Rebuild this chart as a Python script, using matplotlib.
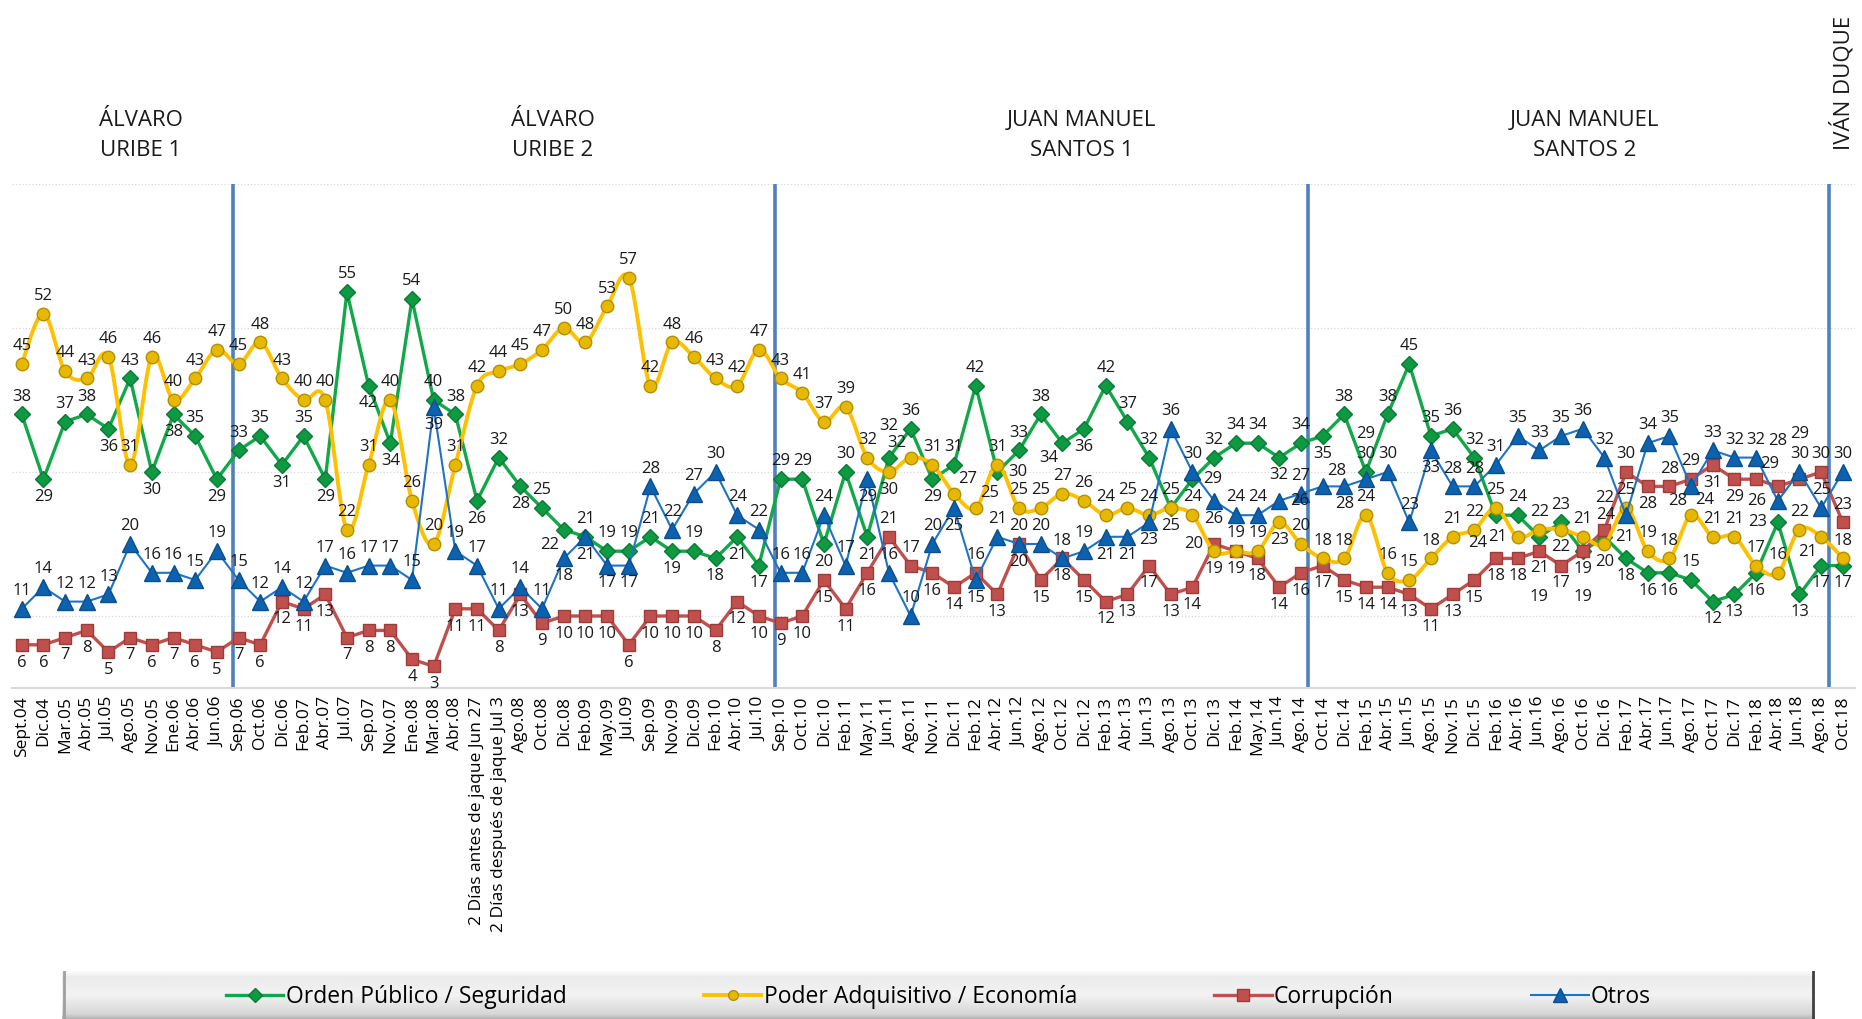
import numpy as np
import matplotlib
matplotlib.use("Agg")
import matplotlib.pyplot as plt
from matplotlib.lines import Line2D

plt.rcParams['font.family'] = ['Open Sans', 'DejaVu Sans']

periodos = ['Sept.04', 'Dic.04', 'Mar.05', 'Abr.05', 'Jul.05', 'Ago.05', 'Nov.05', 'Ene.06', 'Abr.06', 'Jun.06',
            'Sep.06', 'Oct.06', 'Dic.06', 'Feb.07', 'Abr.07', 'Jul.07', 'Sep.07', 'Nov.07', 'Ene.08', 'Mar.08',
            'Abr.08', '2 Días antes de jaque Jun 27', '2 Días después de jaque Jul 3', 'Ago.08', 'Oct.08', 'Dic.08',
            'Feb.09', 'May.09', 'Jul.09', 'Sep.09', 'Nov.09', 'Dic.09', 'Feb.10', 'Abr.10', 'Jul.10',
            'Sep.10', 'Oct.10', 'Dic.10', 'Feb.11', 'May.11', 'Jun.11', 'Ago.11', 'Nov.11', 'Dic.11', 'Feb.12',
            'Abr.12', 'Jun.12', 'Ago.12', 'Oct.12', 'Dic.12', 'Feb.13', 'Abr.13', 'Jun.13', 'Ago.13', 'Oct.13',
            'Dic.13', 'Feb.14', 'May.14', 'Jun.14', 'Ago.14', 'Oct.14', 'Dic.14', 'Feb.15', 'Abr.15', 'Jun.15',
            'Ago.15', 'Nov.15', 'Dic.15', 'Feb.16', 'Abr.16', 'Jun.16', 'Ago.16', 'Oct.16', 'Dic.16', 'Feb.17',
            'Abr.17', 'Jun.17', 'Ago.17', 'Oct.17', 'Dic.17', 'Feb.18', 'Abr.18', 'Jun.18', 'Ago.18', 'Oct.18']

seguridad = [38, 29, 37, 38, 36, 43, 30, 38, 35, 29, 33, 35, 31, 35, 29, 55, 42, 34, 54, 40,
             38, 26, 32, 28, 25, 22, 21, 19, 19, 21, 19, 19, 18, 21, 17, 29, 29, 20, 30, 21,
             32, 36, 29, 31, 42, 30, 33, 38, 34, 36, 42, 37, 32, 25, 29, 32, 34, 34, 32, 34,
             35, 38, 30, 38, 45, 35, 36, 32, 24, 24, 21, 23, 19, 21, 18, 16, 16, 15, 12, 13,
             16, 23, 13, 17, 17]

economia = [45, 52, 44, 43, 46, 31, 46, 40, 43, 47, 45, 48, 43, 40, 40, 22, 31, 40, 26, 20,
            31, 42, 44, 45, 47, 50, 48, 53, 57, 42, 48, 46, 43, 42, 47, 43, 41, 37, 39, 32,
            30, 32, 31, 27, 25, 31, 25, 25, 27, 26, 24, 25, 24, 25, 24, 19, 19, 19, 23, 20,
            18, 18, 24, 16, 15, 18, 21, 22, 25, 21, 22, 22, 21, 20, 25, 19, 18, 24, 21, 21,
            17, 16, 22, 21, 18]

corrupcion = [6, 6, 7, 8, 5, 7, 6, 7, 6, 5, 7, 6, 12, 11, 13, 7, 8, 8, 4, 3,
              11, 11, 8, 13, 9, 10, 10, 10, 6, 10, 10, 10, 8, 12, 10, 9, 10, 15, 11, 16,
              21, 17, 16, 14, 16, 13, 20, 15, 18, 15, 12, 13, 17, 13, 14, 20, 19, 18, 14, 16,
              17, 15, 14, 14, 13, 11, 13, 15, 18, 18, 19, 17, 19, 22, 30, 28, 28, 29, 31, 29,
              29, 28, 29, 30, 23]

otros = [11, 14, 12, 12, 13, 20, 16, 16, 15, 19, 15, 12, 14, 12, 17, 16, 17, 17, 15, 39,
         19, 17, 11, 14, 11, 18, 21, 17, 17, 28, 22, 27, 30, 24, 22, 16, 16, 24, 17, 29,
         16, 10, 20, 25, 15, 21, 20, 20, 18, 19, 21, 21, 23, 36, 30, 26, 24, 24, 26, 27,
         28, 28, 29, 30, 23, 33, 28, 28, 31, 35, 33, 35, 36, 32, 24, 34, 35, 28, 33, 32,
         32, 26, 30, 25, 30]

gobiernos = ['ÁLVARO\nURIBE 1', 'ÁLVARO\nURIBE 2', 'JUAN MANUEL\nSANTOS 1', 'JUAN MANUEL\nSANTOS 2']
gobierno_x = [5.5, 24.5, 48.9, 72.1]
cortes = [9.75, 34.75, 59.35, 83.35]


def smooth(x, y, n=16):
    # Catmull-Rom, close to Excel's smoothed line
    pts = np.column_stack([x, y]).astype(float)
    P = np.vstack([pts[0], pts, pts[-1]])
    t = np.linspace(0, 1, n, endpoint=False)[:, None]
    out = []
    for i in range(1, len(P) - 2):
        p0, p1, p2, p3 = P[i - 1], P[i], P[i + 1], P[i + 2]
        seg = 0.5 * (2 * p1 + (-p0 + p2) * t + (2 * p0 - 5 * p1 + 4 * p2 - p3) * t ** 2
                     + (-p0 + 3 * p1 - 3 * p2 + p3) * t ** 3)
        out.append(seg)
    out.append(pts[-1:])
    return np.vstack(out)


fig = plt.figure(figsize=(18.62, 10.19), dpi=100)
ax = fig.add_axes([12 / 1862, 1 - 688 / 1019, 1843 / 1862, 504 / 1019])
x = np.arange(len(periodos))

c_green, c_gold, c_red, c_blue = '#12A84A', '#FFC000', '#C0504D', '#1F73C6'

ax.plot(x, seguridad, color=c_green, lw=2.4, marker='D', ms=8.5,
        mfc='#0E9A43', mec='#0A7A35', zorder=3)
sm = smooth(x, economia)
ax.plot(sm[:, 0], sm[:, 1], color=c_gold, lw=2.8, zorder=4)
ax.plot(x, economia, ls='none', marker='o', ms=9, mfc='#E6B800', mec='#B38F00', zorder=4)
ax.plot(x, corrupcion, color=c_red, lw=2.4, marker='s', ms=9,
        mfc='#C0504D', mec='#9E3A37', zorder=3)
ax.plot(x, otros, color=c_blue, lw=1.5, marker='^', ms=11,
        mfc='#0D62B0', mec='#0A4E8C', zorder=5)

for c in cortes:
    ax.axvline(c, color='#4F81BD', lw=2.6, zorder=2)

ax.set_xlim(-0.45, 84.56)
ax.set_ylim(0, 70)
ax.set_yticks([10, 30, 50, 70])
ax.yaxis.grid(True, color='#d9d9d9', lw=0.9, ls=':')
ax.set_axisbelow(True)
ax.tick_params(axis='y', length=0, labelleft=False)
ax.set_xticks(x)
ax.set_xticklabels(periodos, rotation=90, fontsize=12.5, va='top', ha='center')
ax.tick_params(axis='x', length=0, pad=6)
for s in ['left', 'right', 'top']:
    ax.spines[s].set_visible(False)
ax.spines['bottom'].set_color('#d9d9d9')
ax.spines['bottom'].set_linewidth(1.5)

# data labels, moved around a little so they do not pile up
fig.canvas.draw()
renderer = fig.canvas.get_renderer()
W = fig.bbox.width
obstacles = []
for serie in [seguridad, economia, corrupcion, otros]:
    for i, v in enumerate(serie):
        px, py = ax.transData.transform((i, v))
        obstacles.append((px - 6, py - 6, px + 6, py + 6))

UP = [((0, 7), 'center', 'bottom'), ((-3, 5), 'right', 'bottom'), ((3, 5), 'left', 'bottom')]
DOWN = [((0, -7), 'center', 'top'), ((-3, -5), 'right', 'top'), ((3, -5), 'left', 'top')]
SIDE = [((-8, 0), 'right', 'center'), ((8, 0), 'left', 'center'),
        ((0, 17), 'center', 'bottom'), ((0, -17), 'center', 'top'),
        ((-6, 14), 'right', 'bottom'), ((6, 14), 'left', 'bottom'),
        ((-6, -14), 'right', 'top'), ((6, -14), 'left', 'top'),
        ((0, 27), 'center', 'bottom'), ((0, -27), 'center', 'top')]


def overlap(bb, boxes):
    tot = 0.0
    for b in boxes:
        w = min(bb.x1, b[2]) - max(bb.x0, b[0])
        h = min(bb.y1, b[3]) - max(bb.y0, b[1])
        if w > 0 and h > 0:
            tot += w * h
    return tot


placed = []


def put_labels(vals, mode):
    for i, v in enumerate(vals):
        if mode == 'auto':
            prev = vals[i - 1] if i > 0 else v
            nxt = vals[i + 1] if i < len(vals) - 1 else v
            up = v >= (prev + nxt) / 2
        else:
            up = mode == 'up'
        cands = (UP + DOWN if up else DOWN + UP) + SIDE
        best, best_score = None, None
        for k, (off, ha, va) in enumerate(cands):
            t = ax.annotate(str(v), (i, v), xytext=off, textcoords='offset points',
                            ha=ha, va=va, fontsize=12, color='#1a1a1a', zorder=6)
            bb = t.get_window_extent(renderer)
            score = 10 * overlap(bb, placed) + overlap(bb, obstacles) + k * 0.5
            if bb.x0 < 1 or bb.x1 > W - 2:
                score += 1e6
            if best_score is None or score < best_score:
                if best is not None:
                    best[0].remove()
                best, best_score = (t, bb), score
            else:
                t.remove()
            if score < 1:
                break
        b = best[1]
        placed.append((b.x0, b.y0, b.x1, b.y1))


put_labels(economia, 'up')
put_labels(seguridad, 'auto')
put_labels(otros, 'up')
put_labels(corrupcion, 'down')

trans = ax.get_xaxis_transform()
for name, gx in zip(gobiernos, gobierno_x):
    ax.text(gx, 1.097, name, transform=trans, ha='center', va='center', fontsize=16,
            linespacing=1.55, color='#1a1a1a')
ax.text(83.96, 1.2, 'IVÁN DUQUE', transform=trans, ha='center', va='center', fontsize=16,
        rotation=90, color='#1a1a1a')

# legend bar with a grey bevel
lax = fig.add_axes([62 / 1862, 0, 1753 / 1862, 48 / 1019])
stops = [0.0, 0.12, 0.5, 0.9, 1.0]
greys = [0.99, 0.92, 0.95, 0.84, 0.70]
grad = np.interp(np.linspace(0, 1, 100), stops, greys)[::-1][:, None]
lax.imshow(np.repeat(grad, 10, axis=1), cmap='gray', vmin=0, vmax=1, aspect='auto',
           extent=[0, 1, 0, 1], origin='lower')
lax.set_xlim(0, 1)
lax.set_ylim(0, 1)
lax.axis('off')
lax.plot([0.999, 0.999], [0, 1], color='#404040', lw=2)
lax.plot([0.001, 0.001], [0, 1], color='#a0a0a0', lw=2)

handles = [
    Line2D([], [], color=c_green, lw=2.4, marker='D', ms=7, mfc='#0E9A43', mec='#0A7A35'),
    Line2D([], [], color=c_gold, lw=2.8, marker='o', ms=7, mfc='#E6B800', mec='#B38F00'),
    Line2D([], [], color=c_red, lw=2.4, marker='s', ms=8, mfc='#C0504D', mec='#9E3A37'),
    Line2D([], [], color=c_blue, lw=1.5, marker='^', ms=10, mfc='#0D62B0', mec='#0A4E8C'),
]
names = ['Orden Público / Seguridad', 'Poder Adquisitivo / Economía', 'Corrupción', 'Otros']
lax.legend(handles, names, loc='center', ncol=4, frameon=False, fontsize=16.5,
           columnspacing=6.0, handlelength=2.5, handletextpad=0.1,
           bbox_to_anchor=(0.5, 0.45))

fig.savefig('out.png', dpi=100, facecolor='white')
